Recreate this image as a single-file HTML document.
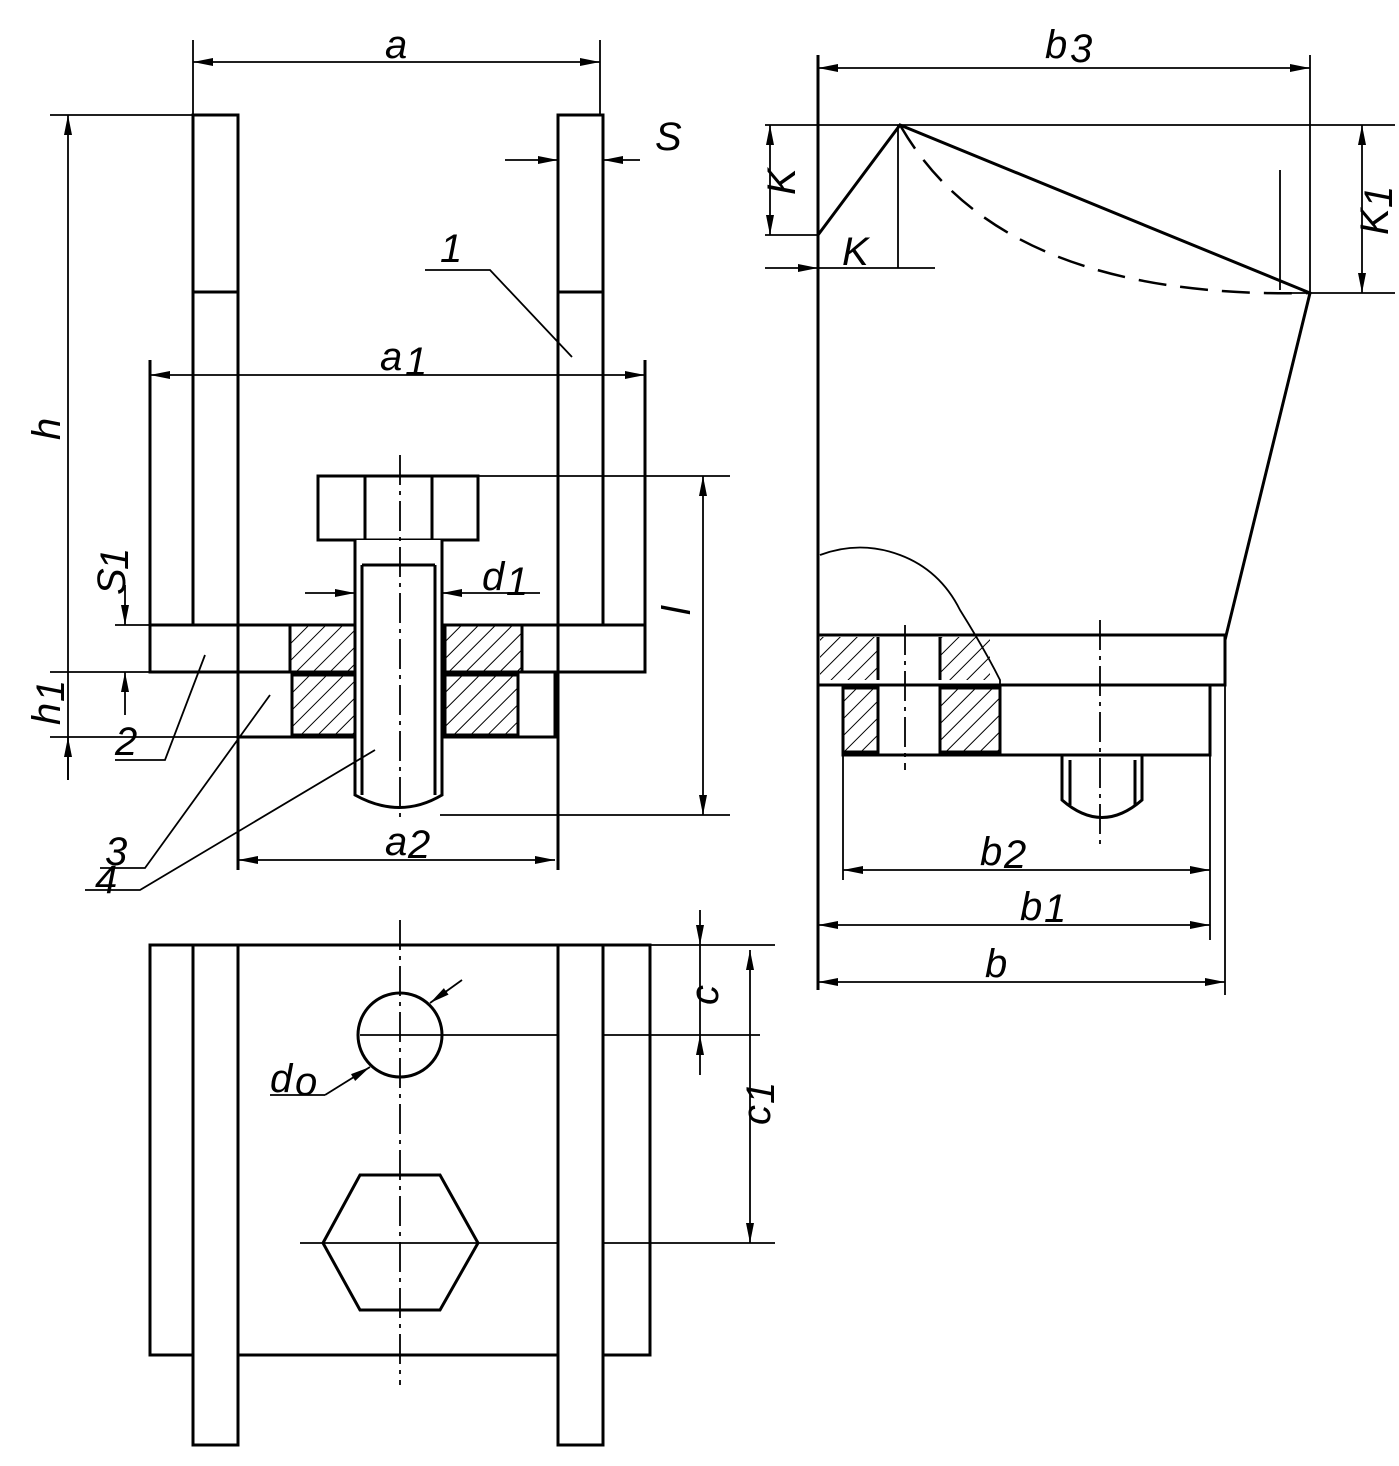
<!DOCTYPE html>
<html><head><meta charset="utf-8"><style>
html,body{margin:0;padding:0;background:#fff}
text{font-family:"Liberation Sans",sans-serif;font-style:italic;font-size:40px;fill:#000}
</style></head><body>
<svg width="1399" height="1461" viewBox="0 0 1399 1461" xmlns="http://www.w3.org/2000/svg">
<defs>
<pattern id="h" width="12" height="12" patternUnits="userSpaceOnUse" patternTransform="rotate(45)">
<line x1="0" y1="0" x2="0" y2="12" stroke="#000" stroke-width="2"/></pattern>
<marker id="a" viewBox="0 0 20 8" refX="20" refY="4" markerWidth="20" markerHeight="8" markerUnits="userSpaceOnUse" orient="auto-start-reverse">
<path d="M0,0 L20,4 L0,8 z" fill="#000"/></marker>
</defs>
<g fill="none" stroke="#000" stroke-width="3">
<path d="M193,625 V115 H238 V870"/>
<path d="M603,625 V115 H558 V870"/>
<line x1="193" y1="292" x2="238" y2="292"/><line x1="558" y1="292" x2="603" y2="292"/>
<path d="M150,360 V672 M645,360 V672"/>
<rect x="150" y="625" width="495" height="47"/>
<rect x="290" y="625" width="68" height="47" fill="url(#h)"/>
<rect x="445" y="625" width="77" height="47" fill="url(#h)"/>
<rect x="238" y="672" width="317" height="65"/>
<rect x="292" y="675" width="66" height="60" fill="url(#h)"/>
<rect x="445" y="675" width="73" height="60" fill="url(#h)"/>
<rect x="318" y="476" width="160" height="64" fill="#fff"/>
<line x1="365" y1="476" x2="365" y2="540"/><line x1="432" y1="476" x2="432" y2="540"/>
<path d="M355,540 V795 Q400,820 442,795 V540" fill="#fff"/>
<path d="M362,565 V795 M435,565 V795 M362,565 H435"/>
</g>
<g fill="none" stroke="#000" stroke-width="1.8">
<line x1="400" y1="455" x2="400" y2="820" stroke-dasharray="30,6,4,6"/>
<line x1="193" y1="40" x2="193" y2="115"/><line x1="600" y1="40" x2="600" y2="115"/>
<line x1="193" y1="62" x2="600" y2="62" marker-start="url(#a)" marker-end="url(#a)"/>
<line x1="50" y1="115" x2="238" y2="115"/>
<line x1="68" y1="115" x2="68" y2="780" marker-start="url(#a)"/>
<line x1="150" y1="375" x2="645" y2="375" marker-start="url(#a)" marker-end="url(#a)"/>
<line x1="505" y1="160" x2="558" y2="160" marker-end="url(#a)"/><line x1="640" y1="160" x2="603" y2="160" marker-end="url(#a)"/>
<line x1="478" y1="476" x2="730" y2="476"/><line x1="440" y1="815" x2="730" y2="815"/>
<line x1="703" y1="476" x2="703" y2="815" marker-start="url(#a)" marker-end="url(#a)"/>
<line x1="305" y1="593" x2="355" y2="593" marker-end="url(#a)"/><line x1="540" y1="593" x2="442" y2="593" marker-end="url(#a)"/>
<line x1="115" y1="625" x2="150" y2="625"/><line x1="50" y1="672" x2="150" y2="672"/><line x1="50" y1="737" x2="238" y2="737"/>
<line x1="125" y1="585" x2="125" y2="625" marker-end="url(#a)"/><line x1="125" y1="715" x2="125" y2="672" marker-end="url(#a)"/>
<line x1="68" y1="780" x2="68" y2="737" marker-end="url(#a)"/>
<line x1="238" y1="860" x2="555" y2="860" marker-start="url(#a)" marker-end="url(#a)"/>
<path d="M425,270 H490 L572,357"/>
<path d="M115,760 H165 L205,655"/>
<path d="M100,868 H145 L270,695"/>
<path d="M85,890 H140 L375,750"/>
<line x1="400" y1="920" x2="400" y2="1385" stroke-dasharray="30,6,4,6"/>
<line x1="650" y1="945" x2="775" y2="945"/>
<line x1="360" y1="1035" x2="760" y2="1035"/><line x1="300" y1="1243" x2="775" y2="1243"/>
<line x1="700" y1="910" x2="700" y2="945" marker-end="url(#a)"/><line x1="700" y1="1075" x2="700" y2="1035" marker-end="url(#a)"/>
<line x1="700" y1="945" x2="700" y2="1035"/>
<line x1="750" y1="950" x2="750" y2="1243" marker-start="url(#a)" marker-end="url(#a)"/>
<line x1="270" y1="1095" x2="325" y2="1095"/><line x1="325" y1="1095" x2="370" y2="1067" marker-end="url(#a)"/>
<line x1="430" y1="1003" x2="462" y2="980" marker-start="url(#a)"/>
</g>
<g fill="none" stroke="#000" stroke-width="3">
<rect x="150" y="945" width="500" height="410"/>
<rect x="193" y="945" width="45" height="500" fill="#fff"/>
<rect x="558" y="945" width="45" height="500" fill="#fff"/>
<circle cx="400" cy="1035" r="42"/>
<polygon points="323,1243 360,1175 440,1175 478,1243 440,1310 360,1310"/>
<line x1="818" y1="55" x2="818" y2="990"/>
<path d="M818,235 L900,125 L1310,293 L1225,640"/>
<path d="M900,125 Q1000,300 1310,293" stroke-dasharray="28,14" stroke-width="2.5"/>
<rect x="818" y="635" width="407" height="50"/>
<rect x="843" y="685" width="367" height="70"/>
<path d="M1062,755 V800 Q1102,835 1142,800 V755 M1070,760 V805 M1135,760 V805"/>
<rect x="820" y="637" width="58" height="43" fill="url(#h)" stroke="none"/>
<rect x="940" y="637" width="50" height="43" fill="url(#h)" stroke="none"/>
<rect x="843" y="688" width="35" height="64" fill="url(#h)"/>
<rect x="940" y="688" width="60" height="64" fill="url(#h)"/>
<path d="M878,637 V680 M940,637 V680"/>
</g>
<g fill="none" stroke="#000" stroke-width="1.8">
<path d="M820,555 Q860,540 900,555 Q940,570 960,610 Q985,650 1000,680 V750"/>
<line x1="1100" y1="620" x2="1100" y2="850" stroke-dasharray="30,6,4,6"/>
<line x1="905" y1="625" x2="905" y2="770" stroke-dasharray="30,6,4,6"/>
<line x1="818" y1="68" x2="1310" y2="68" marker-start="url(#a)" marker-end="url(#a)"/>
<line x1="1310" y1="55" x2="1310" y2="293"/>
<line x1="765" y1="125" x2="1395" y2="125"/>
<line x1="765" y1="235" x2="818" y2="235"/>
<line x1="770" y1="125" x2="770" y2="235" marker-start="url(#a)" marker-end="url(#a)"/>
<line x1="765" y1="268" x2="818" y2="268" marker-end="url(#a)"/><line x1="818" y1="268" x2="935" y2="268"/>
<line x1="898" y1="125" x2="898" y2="268"/>
<line x1="1280" y1="170" x2="1280" y2="290"/>
<line x1="1280" y1="293" x2="1395" y2="293"/>
<line x1="1362" y1="125" x2="1362" y2="293" marker-start="url(#a)" marker-end="url(#a)"/>
<line x1="843" y1="755" x2="843" y2="880"/><line x1="1210" y1="755" x2="1210" y2="940"/><line x1="1225" y1="685" x2="1225" y2="995"/>
<line x1="843" y1="870" x2="1210" y2="870" marker-start="url(#a)" marker-end="url(#a)"/>
<line x1="818" y1="925" x2="1210" y2="925" marker-start="url(#a)" marker-end="url(#a)"/>
<line x1="818" y1="982" x2="1225" y2="982" marker-start="url(#a)" marker-end="url(#a)"/>
</g>
<text x="385" y="58">a</text>
<text x="655" y="150">S</text>
<text x="60" y="440" transform="rotate(-90 60 440)">h</text>
<text x="440" y="262" font-size="30">1</text>
<text x="380" y="370">a</text><text x="405" y="375" font-size="22">1</text>
<text x="482" y="590">d</text><text x="506" y="595" font-size="22">1</text>
<text x="690" y="615" transform="rotate(-90 690 615)">l</text>
<text x="125" y="595" transform="rotate(-90 125 595)">S</text><text x="128" y="570" font-size="22" transform="rotate(-90 128 570)">1</text>
<text x="60" y="725" transform="rotate(-90 60 725)">h</text><text x="64" y="702" font-size="22" transform="rotate(-90 64 702)">1</text>
<text x="115" y="755">2</text>
<text x="105" y="865">3</text>
<text x="95" y="893">4</text>
<text x="385" y="855">a</text><text x="408" y="858" font-size="22">2</text>
<text x="270" y="1092">d</text><text x="295" y="1095" font-size="20">o</text>
<text x="718" y="1005" transform="rotate(-90 718 1005)">c</text>
<text x="770" y="1125" transform="rotate(-90 770 1125)">c</text><text x="774" y="1104" font-size="22" transform="rotate(-90 774 1104)">1</text>
<text x="1045" y="58">b</text><text x="1070" y="62" font-size="22">3</text>
<text x="795" y="195" transform="rotate(-90 795 195)">K</text>
<text x="842" y="265">K</text>
<text x="1388" y="235" transform="rotate(-90 1388 235)">K</text><text x="1392" y="208" font-size="22" transform="rotate(-90 1392 208)">1</text>
<text x="980" y="865">b</text><text x="1004" y="868" font-size="22">2</text>
<text x="1020" y="920">b</text><text x="1044" y="922" font-size="22">1</text>
<text x="985" y="977">b</text>
</svg>
</body></html>
